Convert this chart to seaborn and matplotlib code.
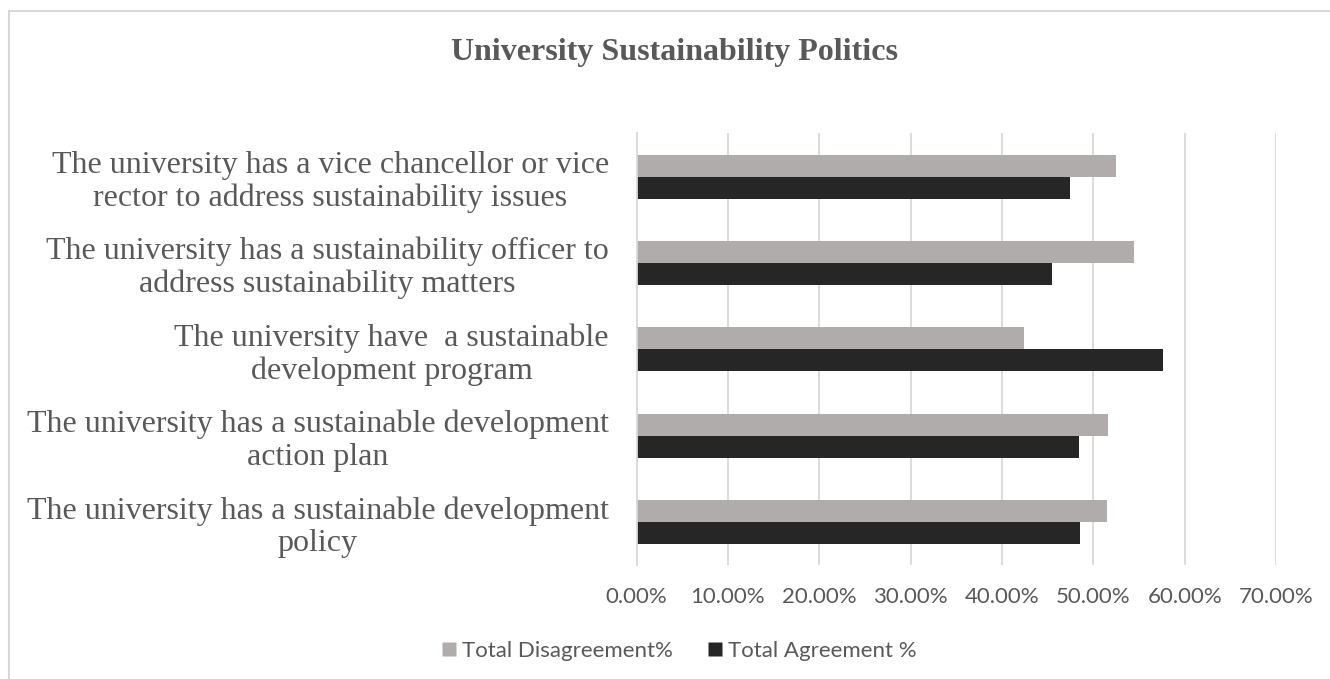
import matplotlib
matplotlib.use("Agg")
import matplotlib.pyplot as plt
from matplotlib.lines import Line2D
from matplotlib.ticker import FuncFormatter
import seaborn as sns
import pandas as pd

# Survey items (top to bottom as drawn)
categories = [
    "The university has a vice chancellor or vice\nrector to address sustainability issues",
    "The university has a sustainability officer to\naddress sustainability matters",
    "The university have  a sustainable\ndevelopment program",
    "The university has a sustainable development\naction plan",
    "The university has a sustainable development\npolicy",
]
disagreement = [0.525, 0.545, 0.424, 0.516, 0.515]
agreement = [0.475, 0.455, 0.576, 0.484, 0.485]
series_names = ["Total Disagreement%", "Total Agreement %"]
x_ticks = [0.0, 0.1, 0.2, 0.3, 0.4, 0.5, 0.6, 0.7]

df = pd.DataFrame({
    "item": categories * 2,
    "value": disagreement + agreement,
    "series": [series_names[0]] * len(categories) + [series_names[1]] * len(categories),
})

sns.set_theme(style="white")
TEXT = "#595959"
SERIF = "Liberation Serif"
SANS = "Lato"

fig = plt.figure(figsize=(13.3, 6.79), dpi=100)
ax = fig.add_axes([0.4786, 0.1679, 0.9594 - 0.4786, 0.8034 - 0.1679])

sns.barplot(
    data=df, y="item", x="value", hue="series", order=categories,
    hue_order=series_names, palette=["#AFACAB", "#262626"],
    width=0.51, orient="h", ax=ax, legend=False, saturation=1,
)
for p in ax.patches:
    p.set_edgecolor("none")

ax.set_xlim(0, 0.7)
ax.set_xticks(x_ticks)
ax.xaxis.set_major_formatter(FuncFormatter(lambda v, _: f"{v*100:.2f}%"))
ax.grid(axis="x", color="#D9D9D9", linewidth=1.3)
ax.set_axisbelow(True)
for s in ["top", "right", "bottom"]:
    ax.spines[s].set_visible(False)
ax.spines["left"].set_color("#D9D9D9")
ax.spines["left"].set_linewidth(1.3)
ax.set_xlabel("")
ax.set_ylabel("")
ax.tick_params(axis="x", length=0, pad=16, labelsize=16, labelcolor=TEXT)
ax.tick_params(axis="y", length=0, pad=20, labelsize=23, labelcolor=TEXT)
for lab in ax.get_xticklabels():
    lab.set_fontfamily(SANS)
for lab in ax.get_yticklabels():
    lab.set_fontfamily(SERIF)
    lab.set_horizontalalignment("right")
    lab.set_multialignment("center")
    lab.set_linespacing(1.15)

fig.text(0.5075, 0.922, "University Sustainability Politics", ha="center", va="center",
         fontsize=23, fontweight="bold", color=TEXT, family=SERIF)

handles = [
    Line2D([], [], marker="s", linestyle="none", markersize=10,
           markerfacecolor="#AFACAB", markeredgecolor="none"),
    Line2D([], [], marker="s", linestyle="none", markersize=10,
           markerfacecolor="#262626", markeredgecolor="none"),
]
fig.legend(handles, series_names, loc="center", bbox_to_anchor=(0.51, 0.041),
           ncol=2, frameon=False, labelcolor=TEXT,
           prop={"family": SANS, "size": 16}, handletextpad=0.2,
           columnspacing=1.5, handlelength=0.8)

# Light frame on the top and left edges
fig.add_artist(Line2D([9 / 1330, 9 / 1330], [0, 1 - 11 / 679], color="#D9D9D9", linewidth=1.5))
fig.add_artist(Line2D([9 / 1330, 1], [1 - 11 / 679, 1 - 11 / 679], color="#D9D9D9", linewidth=1.5))

fig.savefig("out.png", dpi=100, facecolor="white")
